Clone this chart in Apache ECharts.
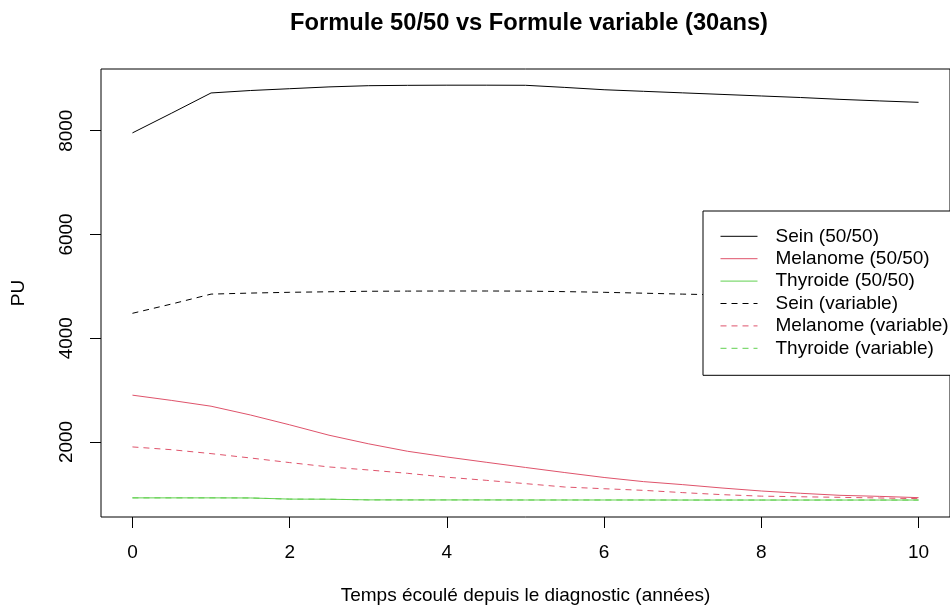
<!DOCTYPE html>
<html><head><meta charset="utf-8">
<script src="https://cdn.jsdelivr.net/npm/echarts@6/dist/echarts.min.js"></script>
<style>html,body{margin:0;padding:0;background:#fff}#c{width:950px;height:615px}</style>
</head><body><div id="c"></div>
<script>
const years = [0,0.5,1,1.5,2,2.5,3,3.5,4,4.5,5,5.5,6,6.5,7,7.5,8,8.5,9,9.5,10];
const seinFixe = [7958,8340,8728,8775,8810,8845,8868,8875,8878,8878,8876,8835,8790,8760,8730,8700,8670,8640,8605,8575,8548];
const melanomeFixe = [2902,2800,2689,2520,2330,2130,1965,1820,1710,1608,1508,1410,1315,1235,1177,1112,1054,1010,971,951,926];
const thyroideFixe = [922,922,922,920,898,896,883,882,882,882,881,881,881,881,880,880,880,880,880,880,880];
const seinVar = [4480,4660,4850,4870,4885,4895,4905,4908,4910,4910,4908,4898,4885,4868,4850,4835,4815,4800,4780,4765,4750];
const melanomeVar = [1904,1850,1775,1691,1602,1518,1460,1395,1320,1260,1196,1131,1098,1067,1023,984,955,943,932,920,907];
const thyroideVar = [922,922,922,920,898,896,883,882,882,882,881,881,881,881,880,880,880,880,880,880,880];
const xTicks = [0,2,4,6,8,10];
const yTicks = [2000,4000,6000,8000];
const seriesNames = ['Sein (50/50)','Melanome (50/50)','Thyroide (50/50)','Sein (variable)','Melanome (variable)','Thyroide (variable)'];
const seriesValues = [seinFixe, melanomeFixe, thyroideFixe, seinVar, melanomeVar, thyroideVar];
const seriesColors = ['#000000','#DF536B','#61D04F','#000000','#DF536B','#61D04F'];
const seriesDashed = [false,false,false,true,true,true];
const titleText = 'Formule 50/50 vs Formule variable (30ans)';
const xName = 'Temps écoulé depuis le diagnostic (années)';
const yName = 'PU';

const FONT = '"Liberation Sans", Arial, sans-serif';
const chart = echarts.init(document.getElementById('c'), null, {renderer: 'canvas'});
const series = seriesNames.map((n, i) => ({
  name: n,
  type: 'line',
  data: years.map((x, k) => [x, seriesValues[i][k]]),
  symbol: 'none',
  showSymbol: false,
  smooth: false,
  animation: false,
  silent: true,
  z: 2 + i * 0.01,
  lineStyle: {color: seriesColors[i], width: 1, type: seriesDashed[i] ? [6, 5] : 'solid'},
  itemStyle: {color: seriesColors[i]},
  emphasis: {disabled: true}
}));
chart.setOption({
  animation: false,
  backgroundColor: '#ffffff',
  textStyle: {fontFamily: FONT, color: '#000'},
  title: {
    text: titleText, left: 529, top: 11.6, padding: 0, textAlign: 'center',
    textStyle: {fontFamily: FONT, fontSize: 23.7, fontWeight: 'bold', color: '#000', lineHeight: 23.7}
  },
  grid: {left: 101, top: 69, width: 856, height: 448, show: true, borderColor: '#000', borderWidth: 1, backgroundColor: 'transparent', containLabel: false},
  legend: {
    data: seriesNames, orient: 'vertical', left: 703, top: 211,
    padding: [15.8, 14, 17.5, 17], itemGap: 3.4, itemWidth: 37, itemHeight: 19,
    backgroundColor: '#ffffff', borderColor: '#000', borderWidth: 1, borderRadius: 0,
    selectedMode: false, z: 10,
    itemStyle: {opacity: 0, borderWidth: 0},
    lineStyle: {width: 1},
    textStyle: {fontFamily: FONT, fontSize: 19, color: '#000', lineHeight: 19, padding: [0, 0, 0, 13]}
  },
  xAxis: {
    type: 'value', min: -0.4, max: 10.4,
    name: xName, nameLocation: 'middle', nameGap: 69.3,
    nameTextStyle: {fontFamily: FONT, fontSize: 19, color: '#000', lineHeight: 19},
    axisLine: {show: false, onZero: false},
    axisTick: {show: true, inside: false, length: 11, customValues: xTicks, lineStyle: {color: '#000', width: 1}},
    axisLabel: {show: true, margin: 26, customValues: xTicks, formatter: v => String(v), fontFamily: FONT, fontSize: 19, color: '#000', lineHeight: 19},
    splitLine: {show: false}
  },
  yAxis: {
    type: 'value', min: 553, max: 9190,
    name: yName, nameLocation: 'middle', nameGap: 73,
    nameTextStyle: {fontFamily: FONT, fontSize: 19, color: '#000', lineHeight: 19},
    axisLine: {show: false, onZero: false},
    axisTick: {show: true, inside: false, length: 11, customValues: yTicks, lineStyle: {color: '#000', width: 1}},
    axisLabel: {show: true, margin: 25, rotate: 90, customValues: yTicks, formatter: v => String(v), fontFamily: FONT, fontSize: 19, color: '#000', lineHeight: 19},
    splitLine: {show: false}
  },
  series: series
});
</script>
</body></html>
